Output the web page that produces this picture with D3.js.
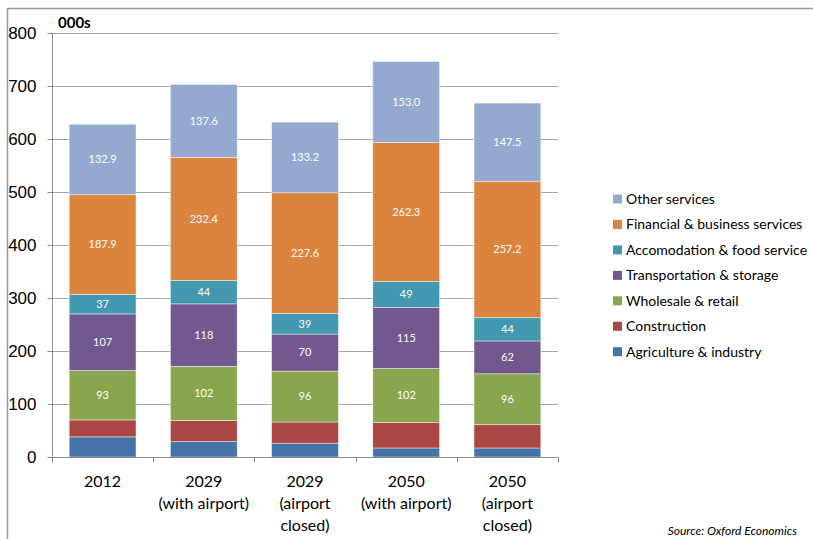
<!DOCTYPE html>
<html>
<head>
<meta charset="utf-8">
<script src="https://cdn.jsdelivr.net/npm/d3@7"></script>
<style>
  body { margin: 0; background: #fff; }
  svg { display: block; font-family: Lato, "Open Sans", sans-serif; }
  .axis path, .axis line { stroke: #8c8c8c; }
</style>
</head>
<body>
<div id="chart"></div>
<script>
const categories = ["2012", "2029|(with airport)", "2029|(airport|closed)", "2050|(with airport)", "2050|(airport|closed)"];
const seriesNames = ["Agriculture & industry", "Construction", "Wholesale & retail", "Transportation & storage",
    "Accomodation & food service", "Financial & business services", "Other services"];
const seriesColors = ["#4572A7", "#AA4643", "#89A54E", "#71588F", "#4198AF", "#DB843D", "#94A9D0"];

const agriculture = [38, 29, 26, 17, 17];
const construction = [32, 40, 40, 48, 44];
const wholesale = [93, 102, 96, 102, 96];
const transport = [107, 118, 70, 115, 62];
const accomodation = [37, 44, 39, 49, 44];
const financial = [187.9, 232.4, 227.6, 262.3, 257.2];
const otherServices = [132.9, 137.6, 133.2, 153.0, 147.5];

// which series get value labels, and how they print
const labelled = [false, false, true, true, true, true, true];
const labelFormat = [d3.format("d"), d3.format("d"), d3.format("d"), d3.format("d"), d3.format("d"), d3.format(".1f"), d3.format(".1f")];

const yTicks = [0, 100, 200, 300, 400, 500, 600, 700, 800];

const allSeries = [agriculture, construction, wholesale, transport, accomodation, financial, otherServices];

const W = 813, H = 539;
const plot = { left: 52, right: 558, top: 33, bottom: 457 };

const svg = d3.select("#chart").append("svg")
    .attr("width", W)
    .attr("height", H);

// frame lines (top and left only, as in the original crop)
svg.append("line").attr("x1", 7).attr("x2", W).attr("y1", 8.5).attr("y2", 8.5)
    .attr("stroke", "#999").attr("stroke-width", 1.5);
svg.append("line").attr("x1", 7.5).attr("x2", 7.5).attr("y1", 8).attr("y2", H)
    .attr("stroke", "#999").attr("stroke-width", 1.5);

const x = d3.scaleBand()
    .domain(categories)
    .range([plot.left, plot.right])
    .paddingInner(0.34)
    .paddingOuter(0.17);

const y = d3.scaleLinear()
    .domain([0, 800])
    .range([plot.bottom, plot.top]);

// gridlines
svg.append("g")
    .selectAll("line")
    .data(yTicks.filter(d => d > 0))
    .enter()
    .append("line")
    .attr("x1", plot.left)
    .attr("x2", plot.right)
    .attr("y1", d => Math.round(y(d)) + 0.5)
    .attr("y2", d => Math.round(y(d)) + 0.5)
    .attr("stroke", "#a6a6a6")
    .attr("stroke-width", 1);

// stacked data
const rows = categories.map((c, i) => {
    const row = { cat: c };
    seriesNames.forEach((s, j) => { row[s] = allSeries[j][i]; });
    return row;
});
const stacked = d3.stack().keys(seriesNames)(rows);

const layers = svg.append("g")
    .selectAll("g")
    .data(stacked)
    .enter()
    .append("g")
    .attr("fill", (d, i) => seriesColors[i]);

layers.selectAll("rect")
    .data(d => d)
    .enter()
    .append("rect")
    .attr("x", d => x(d.data.cat))
    .attr("width", x.bandwidth())
    .attr("y", d => y(d[1]))
    .attr("height", d => y(d[0]) - y(d[1]))
    .attr("stroke", "rgba(255,255,255,0.55)")
    .attr("stroke-width", 0.8);

layers.each(function(layer, i) {
    if (!labelled[i]) return;
    d3.select(this).selectAll("text")
        .data(layer)
        .enter()
        .append("text")
        .attr("x", d => x(d.data.cat) + x.bandwidth() / 2)
        .attr("y", d => (y(d[0]) + y(d[1])) / 2)
        .attr("dy", "0.35em")
        .attr("text-anchor", "middle")
        .attr("fill", "#fff")
        .style("font-size", "11px")
        .text((d, k) => labelFormat[i](allSeries[i][k]));
});

// y axis
const yAxis = svg.append("g")
    .attr("class", "axis")
    .attr("transform", `translate(${plot.left + 0.5},0)`)
    .call(d3.axisLeft(y).tickValues(yTicks).tickSize(5).tickPadding(11));
yAxis.select(".domain").attr("d", `M0,${plot.top}V${plot.bottom + 0.5}`);
yAxis.selectAll("text").style("font-size", "17px").attr("fill", "#000");

// x axis
const xAxis = svg.append("g")
    .attr("class", "axis")
    .attr("transform", `translate(0,${plot.bottom + 0.5})`);
xAxis.append("line")
    .attr("x1", plot.left).attr("x2", plot.right)
    .attr("stroke", "#8c8c8c");
const bounds = d3.range(categories.length + 1).map(i => plot.left + i * x.step());
xAxis.selectAll(".tick")
    .data(bounds)
    .enter()
    .append("line")
    .attr("x1", d => Math.round(d) + 0.5)
    .attr("x2", d => Math.round(d) + 0.5)
    .attr("y1", 0)
    .attr("y2", 5)
    .attr("stroke", "#8c8c8c");
xAxis.selectAll("text")
    .data(categories)
    .enter()
    .append("text")
    .attr("x", d => x(d) + x.bandwidth() / 2)
    .attr("y", 29)
    .attr("text-anchor", "middle")
    .style("font-size", "16px")
    .attr("fill", "#000")
    .each(function(d) {
        d.split("|").forEach((line, k) => {
            d3.select(this).append("tspan")
                .attr("x", x(d) + x.bandwidth() / 2)
                .attr("dy", k === 0 ? 0 : 22)
                .text(line);
        });
    });

// unit label
svg.append("text")
    .attr("x", 58)
    .attr("y", 28)
    .style("font-size", "15px")
    .style("font-weight", "bold")
    .text("000s");

// legend, top item is the top of the stack
const legendItems = seriesNames.map((s, i) => ({ name: s, color: seriesColors[i] })).reverse();
const legend = svg.append("g")
    .selectAll("g")
    .data(legendItems)
    .enter()
    .append("g")
    .attr("transform", (d, i) => `translate(613,${199 + i * 25.45})`);
legend.append("rect")
    .attr("x", 0)
    .attr("y", -4.5)
    .attr("width", 9)
    .attr("height", 9)
    .attr("fill", d => d.color);
legend.append("text")
    .attr("x", 13)
    .attr("dy", "0.35em")
    .style("font-size", "14px")
    .attr("fill", "#000")
    .text(d => d.name);

// source
svg.append("text")
    .attr("x", 797)
    .attr("y", 535)
    .attr("text-anchor", "end")
    .style("font-size", "12px")
    .style("font-style", "italic")
    .text("Source: Oxford Economics");
</script>
</body>
</html>
